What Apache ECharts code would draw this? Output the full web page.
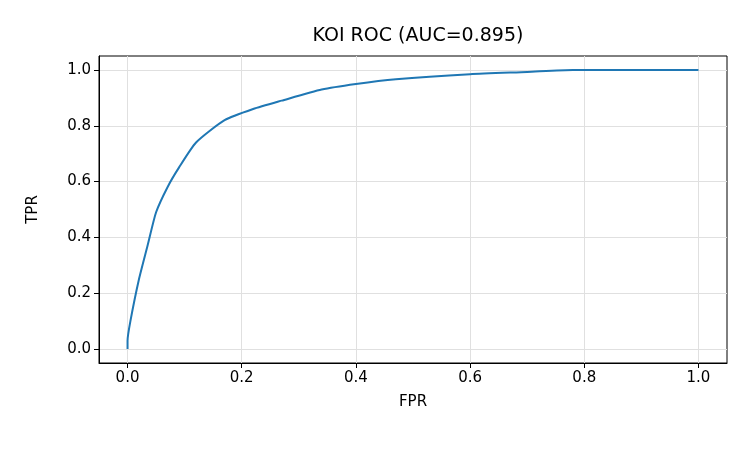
<!DOCTYPE html>
<html>
<head>
<meta charset="utf-8">
<script src="https://cdn.jsdelivr.net/npm/echarts@6/dist/echarts.min.js"></script>
</head>
<body style="margin:0">
<div id="main" style="width:750px;height:450px"></div>
<script>
// ROC curve points
var fpr = [0, 0, 0.005, 0.02, 0.035, 0.05, 0.07, 0.09, 0.12, 0.17, 0.22, 0.27, 0.34, 0.4, 0.47, 0.6, 0.7, 0.78, 0.9, 1.0];
var tpr = [0, 0.03, 0.1, 0.25, 0.37, 0.49, 0.58, 0.65, 0.74, 0.82, 0.86, 0.89, 0.93, 0.95, 0.967, 0.985, 0.993, 1.0, 1.0, 1.0];
var ticks = [0, 0.2, 0.4, 0.6, 0.8, 1.0];

var pts = [];
for (var i = 0; i < fpr.length; i++) pts.push([fpr[i], tpr[i]]);

var axisCommon = {
  type: 'value', min: -0.05, max: 1.05, interval: 0.2,
  axisLine: {show: true, onZero: false, lineStyle: {color: '#000'}},
  axisTick: {show: true, length: 5, lineStyle: {color: '#000'}},
  axisLabel: {color: '#000', fontSize: 15, fontFamily: 'DejaVu Sans',
    customValues: ticks, formatter: function (v) { return v.toFixed(1); }},
  splitLine: {show: true, lineStyle: {color: '#e0e0e0'}},
  nameTextStyle: {color: '#000', fontSize: 15, fontFamily: 'DejaVu Sans'},
  nameLocation: 'middle'
};

var myChart = echarts.init(document.getElementById('main'));
myChart.setOption({
  animation: false,
  title: {text: 'KOI ROC (AUC=0.895)', left: 413, top: 22, textAlign: 'center',
    textStyle: {fontSize: 19, fontWeight: 'normal', color: '#000', fontFamily: 'DejaVu Sans'}},
  grid: {left: 99, right: 23, top: 56, bottom: 87, show: true, borderColor: '#000', borderWidth: 1},
  xAxis: Object.assign({}, axisCommon, {name: 'FPR', nameGap: 32,
    axisTick: Object.assign({}, axisCommon.axisTick, {customValues: ticks})}),
  yAxis: Object.assign({}, axisCommon, {name: 'TPR', nameGap: 58,
    axisTick: Object.assign({}, axisCommon.axisTick, {customValues: ticks})}),
  series: [{
    type: 'line', data: pts, showSymbol: false, smooth: 0.2,
    lineStyle: {color: '#1f77b4', width: 2}
  }]
});
</script>
</body>
</html>
